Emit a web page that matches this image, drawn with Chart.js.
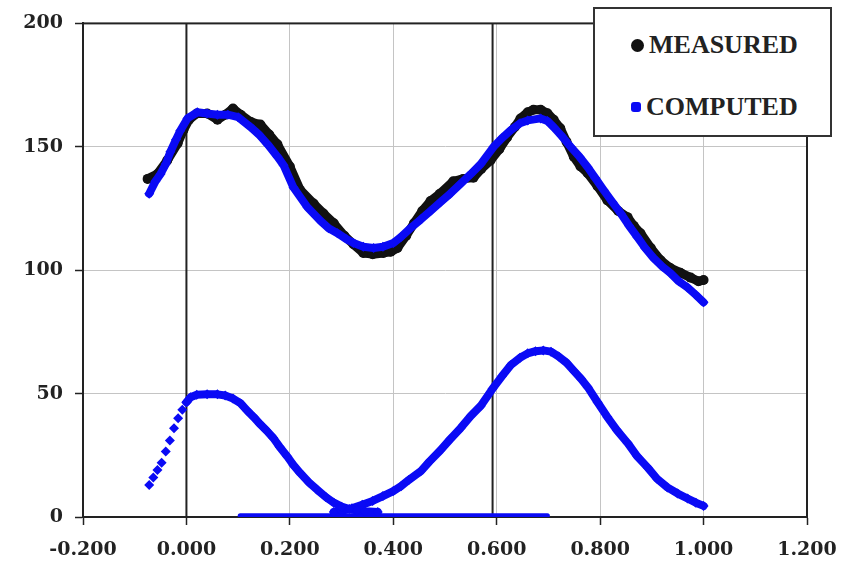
<!DOCTYPE html>
<html>
<head>
<meta charset="utf-8">
<script src="https://cdn.jsdelivr.net/npm/chart.js@4.4.1/dist/chart.umd.min.js"></script>
<style>
  body { margin: 0; background: #fff; }
  #wrap { position: relative; width: 854px; height: 562px; }
  #legend {
    position: absolute; left: 593px; top: 7px; width: 235px; height: 126px;
    border: 2px solid #333; background: #fff;
    font-family: "Liberation Serif", "DejaVu Serif", serif; font-weight: bold;
    font-size: 26px; color: #222;
  }
  .item { position: absolute; left: 36px; display: flex; align-items: center; }
  .mark { display: inline-block; margin-right: 5px; }
</style>
</head>
<body>
<div id="wrap">
  <canvas id="chart"></canvas>
  <div id="legend"></div>
</div>
<script>
// measured curve (black)
const measuredX = [-0.075, -0.056, -0.037, -0.017, -0.006, 0.005, 0.02, 0.04, 0.06, 0.075, 0.09, 0.105, 0.125, 0.143, 0.16, 0.176, 0.2, 0.22, 0.246, 0.265, 0.285, 0.305, 0.323, 0.342, 0.36, 0.381, 0.395, 0.408, 0.425, 0.44, 0.456, 0.472, 0.49, 0.516, 0.535, 0.555, 0.57, 0.588, 0.605, 0.62, 0.635, 0.646, 0.66, 0.671, 0.685, 0.698, 0.71, 0.723, 0.735, 0.749, 0.762, 0.776, 0.795, 0.814, 0.835, 0.853, 0.865, 0.878, 0.898, 0.917, 0.935, 0.955, 0.975, 0.99, 1.0];
const measuredY = [137, 139, 144.5, 151.4, 156.7, 161, 163.5, 163.5, 161, 163, 165.5, 163, 160, 159, 155, 151, 142, 132.5, 127, 123, 119, 114, 110.5, 107, 106.5, 107, 107.5, 109, 114, 119, 124, 128, 131, 136, 137, 137.5, 141, 144.5, 149, 153.8, 158, 161.5, 164, 165, 165, 163.6, 161, 157.5, 152, 146, 142, 139.3, 134, 128.3, 124, 121.5, 118, 115, 109, 104, 101, 99, 97, 95.5, 96];

// computed total (blue)
const computedX = [-0.072, -0.06, -0.05, -0.04, -0.031, -0.02, -0.012, 0.002, 0.021, 0.04, 0.06, 0.08, 0.1, 0.124, 0.14, 0.157, 0.176, 0.188, 0.207, 0.234, 0.259, 0.275, 0.292, 0.31, 0.323, 0.342, 0.362, 0.38, 0.4, 0.415, 0.433, 0.453, 0.472, 0.491, 0.51, 0.53, 0.55, 0.569, 0.594, 0.61, 0.627, 0.645, 0.66, 0.685, 0.698, 0.71, 0.725, 0.743, 0.76, 0.776, 0.79, 0.807, 0.824, 0.84, 0.856, 0.872, 0.887, 0.903, 0.92, 0.936, 0.952, 0.969, 0.985, 1.0];
const computedY = [131, 136, 139, 143, 148, 153, 156.5, 161.5, 164, 163.5, 163, 163, 162, 158, 155, 151, 146, 142.5, 133.5, 125.5, 120, 117, 115, 112.5, 111, 109.5, 109, 109.5, 111, 113.5, 117, 120.5, 124, 127.5, 131, 135, 139, 143, 150, 153.5, 156.7, 159.5, 160.7, 161.5, 160.5, 158, 154.5, 150, 146, 141.7, 137.5, 132.4, 127.5, 123, 118, 113.4, 109, 105, 101.5, 98.8, 95.5, 93, 90, 87];

// first component: sparse rising part, then dense part
const compARiseX = [-0.072, -0.064, -0.056, -0.048, -0.04, -0.032, -0.024, -0.016, -0.008, 0.0];
const compARiseY = [13, 16, 19, 22, 26.5, 31, 36, 40, 43.5, 46.5];
const compAX = [0.0, 0.008, 0.02, 0.04, 0.06, 0.075, 0.09, 0.105, 0.118, 0.13, 0.143, 0.155, 0.168, 0.18, 0.195, 0.207, 0.22, 0.237, 0.253, 0.27, 0.285, 0.3, 0.315, 0.33, 0.345, 0.37];
const compAY = [46.5, 48.5, 49.5, 49.7, 49.7, 49.2, 48, 46, 43, 40.5, 37.5, 35, 32, 28.5, 24.5, 21, 17.8, 14, 11, 8, 5.8, 4.2, 3.2, 2.6, 2.3, 2];

// second component
const compBX = [0.285, 0.3, 0.32, 0.34, 0.36, 0.38, 0.4, 0.415, 0.43, 0.453, 0.47, 0.491, 0.51, 0.53, 0.55, 0.569, 0.592, 0.61, 0.627, 0.645, 0.66, 0.675, 0.69, 0.705, 0.72, 0.735, 0.75, 0.763, 0.776, 0.795, 0.814, 0.833, 0.853, 0.872, 0.892, 0.91, 0.93, 0.95, 0.969, 0.985, 1.0];
const compBY = [2, 2.5, 3.5, 5, 6.5, 8.5, 10.5, 12.5, 15, 18.5, 22.5, 27, 31.5, 36, 41, 45, 52, 57, 61.5, 64.5, 66.3, 67.2, 67.5, 67, 65, 62.5, 59, 56, 52.6, 46.5, 40.5, 35, 30, 24.5, 20, 15.5, 12, 9.5, 7.5, 5.8, 4.5];

// flat zero series
const zeroX = [0.104, 0.698];
const zeroY = [0.5, 0.5];

// vertical reference lines
const refLineX = [0, 0.592];
const refLineY = [0, 200];

const xTickValues = [-0.2, 0, 0.2, 0.4, 0.6, 0.8, 1.0, 1.2];
const xTickLabels = ['-0.200', '0.000', '0.200', '0.400', '0.600', '0.800', '1.000', '1.200'];
const yTickValues = [0, 50, 100, 150, 200];

const BLUE = '#0a0af5';
const BLACK = '#111';

function zip(xs, ys) {
  return xs.map((x, i) => ({ x: x, y: ys[i] }));
}

function curve(label, xs, ys, color, width, style, radius, order) {
  return {
    label: label,
    data: zip(xs, ys),
    showLine: true,
    borderColor: color,
    borderWidth: width,
    borderJoinStyle: 'round',
    borderCapStyle: 'round',
    pointStyle: style,
    pointRadius: radius,
    pointBackgroundColor: color,
    pointBorderWidth: 0,
    order: order
  };
}

const datasets = [
  curve('MEASURED', measuredX, measuredY, BLACK, 9, 'circle', 5, 3),
  curve('COMPUTED', computedX, computedY, BLUE, 8, 'rectRot', 5, 2),
  curve('compA', compAX, compAY, BLUE, 8, 'rectRot', 5, 1),
  curve('compB', compBX, compBY, BLUE, 8, 'rectRot', 5, 1),
  curve('zero', zeroX, zeroY, BLUE, 5, 'rectRot', 0, 1),
  {
    label: 'compArise',
    data: zip(compARiseX, compARiseY),
    showLine: false,
    pointStyle: 'rectRot',
    pointRadius: 5,
    pointBackgroundColor: BLUE,
    pointBorderWidth: 0,
    order: 1
  }
];

refLineX.forEach(v => {
  datasets.push({
    label: 'ref',
    data: refLineY.map(y => ({ x: v, y: y })),
    showLine: true,
    borderColor: '#222',
    borderWidth: 2,
    pointRadius: 0,
    order: 5
  });
});

const framePlugin = {
  id: 'frame',
  beforeDatasetsDraw(chart) {
    const a = chart.chartArea;
    const ctx = chart.ctx;
    ctx.save();
    ctx.strokeStyle = '#222';
    ctx.lineWidth = 2;
    ctx.strokeRect(a.left, a.top, a.right - a.left, a.bottom - a.top);
    ctx.restore();
  }
};

const tickFont = { family: '"DejaVu Serif", serif', size: 19, weight: 'bold' };

new Chart(document.getElementById('chart'), {
  type: 'scatter',
  data: { datasets: datasets },
  options: {
    responsive: true,
    maintainAspectRatio: false,
    animation: false,
    layout: { padding: { top: 23, right: 47, left: 0, bottom: 0 } },
    plugins: {
      legend: { display: false },
      tooltip: { enabled: false }
    },
    scales: {
      x: {
        type: 'linear',
        min: -0.2, max: 1.2,
        afterBuildTicks: axis => { axis.ticks = xTickValues.map(v => ({ value: v })); },
        afterFit: axis => { axis.height = 45; },
        ticks: {
          font: tickFont, color: '#222', padding: 14,
          callback: (v, i) => xTickLabels[i]
        },
        grid: { color: '#c4c4c4', lineWidth: 1, tickColor: '#222', tickLength: 8, tickWidth: 1.5 },
        border: { display: true, color: '#222', width: 2 }
      },
      y: {
        min: 0, max: 200,
        afterBuildTicks: axis => { axis.ticks = yTickValues.map(v => ({ value: v })); },
        afterFit: axis => { axis.width = 83; },
        ticks: { font: tickFont, color: '#222', padding: 12 },
        grid: { color: '#c4c4c4', lineWidth: 1, tickColor: '#222', tickLength: 8, tickWidth: 1.5 },
        border: { display: true, color: '#222', width: 2 }
      }
    }
  },
  plugins: [framePlugin]
});

// legend box, from the first two datasets
const legend = document.getElementById('legend');
const legendItems = [
  { label: datasets[0].label, color: BLACK, size: 13, top: 21, round: true },
  { label: datasets[1].label, color: BLUE, size: 10, top: 83, round: false }
];
legendItems.forEach(it => {
  const row = document.createElement('div');
  row.className = 'item';
  row.style.top = it.top + 'px';
  const m = document.createElement('span');
  m.className = 'mark';
  m.style.width = it.size + 'px';
  m.style.height = it.size + 'px';
  m.style.background = it.color;
  m.style.borderRadius = it.round ? '50%' : '30%';
  const t = document.createElement('span');
  t.textContent = it.label;
  row.appendChild(m);
  row.appendChild(t);
  legend.appendChild(row);
});
</script>
</body>
</html>
